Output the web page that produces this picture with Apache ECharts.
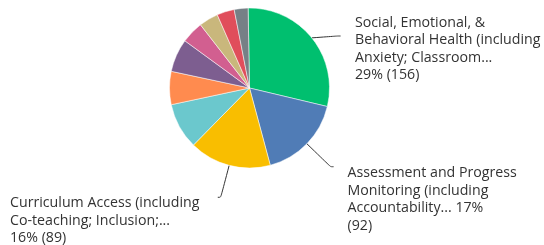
<!DOCTYPE html>
<html lang="en">
<head>
    <meta charset="UTF-8">
    <title>Pie</title>
    <script src="https://cdn.jsdelivr.net/npm/echarts@6/dist/echarts.min.js"></script>
    <style>
        html, body { margin: 0; padding: 0; background: #fff; }
        #main { width: 544px; height: 245px; }
    </style>
</head>
<body>
<div id="main"></div>
<script>
    var categories = [
        'Social, Emotional, & Behavioral Health (including Anxiety; Classroom...',
        'Assessment and Progress Monitoring (including Accountability...',
        'Curriculum Access (including Co-teaching; Inclusion;...',
        'Other 1', 'Other 2', 'Other 3', 'Other 4', 'Other 5', 'Other 6', 'Other 7'
    ];
    var counts = [156, 92, 89, 50, 36, 36, 24, 21, 19, 15];
    var percents = [29, 17, 16, 9, 7, 7, 4, 4, 4, 3];
    // wrapped label text, only the three biggest slices carry one
    var labelTexts = [
        'Social, Emotional, &\nBehavioral Health (including\nAnxiety; Classroom...\n29% (156)',
        'Assessment and Progress\nMonitoring (including\nAccountability... 17%\n(92)',
        'Curriculum Access (including\nCo-teaching; Inclusion;...\n16% (89)'
    ];
    var colors = ['#00BF6F', '#507CB6', '#F9BE00', '#6BC8CD', '#FF8B4F', '#7D5E90', '#D25F90', '#C9B77C', '#E04E5B', '#768086'];

    // where each label box goes (left, top)
    var labelPos = [[355, 14], [347.5, 164.5], [10, 194.5]];

    var data = counts.map(function (v, i) {
        return {
            name: categories[i],
            value: v,
            itemStyle: {color: colors[i]},
            label: {show: i < 3},
            labelLine: {show: i < 3}
        };
    });

    var myChart = echarts.init(document.getElementById('main'));
    var option = {
        animation: false,
        series: [{
            type: 'pie',
            center: [249.5, 88],
            radius: 80,
            startAngle: 91,
            clockwise: true,
            itemStyle: {borderColor: '#fff', borderWidth: 0.5},
            label: {
                position: 'outside',
                formatter: function (p) { return labelTexts[p.dataIndex]; },
                fontFamily: 'Open Sans',
                fontSize: 14.2,
                fontWeight: 500,
                lineHeight: 17.5,
                color: '#333',
                align: 'left',
                overflow: 'none'
            },
            labelLine: {
                smooth: 0.3,
                length: 33,
                length2: 3,
                lineStyle: {color: '#333', width: 1}
            },
            labelLayout: function (params) {
                var p = labelPos[params.dataIndex];
                if (!p) return {};
                var res = {x: p[0], y: p[1], align: 'left', verticalAlign: 'top', width: 200};
                if (params.labelLinePoints) res.labelLinePoints = params.labelLinePoints;
                return res;
            },
            data: data
        }]
    };
    myChart.setOption(option);
</script>
</body>
</html>
